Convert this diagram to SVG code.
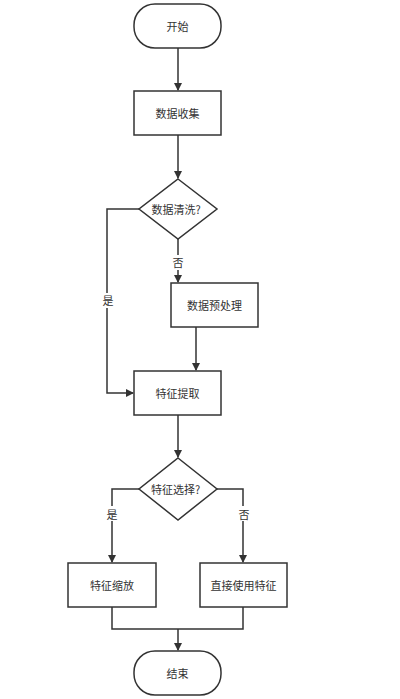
<svg xmlns="http://www.w3.org/2000/svg" width="400" height="699" viewBox="0 0 400 699">
<style>
.n{fill:#fff;stroke:#333;stroke-width:1.5}
.t{font-family:"Noto Sans CJK SC","Liberation Sans",sans-serif;font-size:11px;fill:#333;text-anchor:middle;dominant-baseline:central}
.c{fill:none;stroke:#333;stroke-width:1.5}
.lb{fill:#fff}
</style>
<defs>
<marker id="a" markerWidth="8" markerHeight="8" refX="7" refY="4" orient="auto" markerUnits="userSpaceOnUse">
<path d="M0,0 L8,4 L0,8 Z" fill="#333"/>
</marker>
</defs>
<rect width="400" height="699" fill="#fff"/>
<g id="connectors">
<path class="c" d="M178,48 V90" marker-end="url(#a)"/>
<path class="c" d="M178,135 V178" marker-end="url(#a)"/>
<path class="c" d="M139,209 H107 V393 H133" marker-end="url(#a)"/>
<path class="c" d="M178,239 V282" marker-end="url(#a)"/>
<path class="c" d="M196,327 V370" marker-end="url(#a)"/>
<path class="c" d="M178,415 V457" marker-end="url(#a)"/>
<path class="c" d="M139,489 H112 V562" marker-end="url(#a)"/>
<path class="c" d="M217,489 H243 V562" marker-end="url(#a)"/>
<path class="c" d="M112,607 V629 H243 V607"/>
<path class="c" d="M178,629 V650" marker-end="url(#a)"/>
<rect class="lb" x="101" y="293" width="14" height="15"/>
<text class="t" x="108" y="300">是</text>
<rect class="lb" x="171" y="255" width="14" height="15"/>
<text class="t" x="178" y="262">否</text>
<rect class="lb" x="105" y="506" width="14" height="15"/>
<text class="t" x="112" y="514">是</text>
<rect class="lb" x="236" y="506" width="14" height="15"/>
<text class="t" x="244" y="514">否</text>
</g>
<g id="start"><rect class="n" x="134" y="4" width="87" height="44" rx="21"/><text class="t" x="177.5" y="26">开始</text></g>
<g id="collect"><rect class="n" x="134" y="91" width="87" height="44"/><text class="t" x="177.5" y="113">数据收集</text></g>
<g id="clean"><path class="n" d="M178,179 L217,209 L178,239 L139,209 Z"/><text class="t" x="176" y="209">数据清洗?</text></g>
<g id="preprocess"><rect class="n" x="171" y="283" width="87" height="44"/><text class="t" x="214.5" y="305">数据预处理</text></g>
<g id="extract"><rect class="n" x="134" y="371" width="87" height="44"/><text class="t" x="177.5" y="393">特征提取</text></g>
<g id="select"><path class="n" d="M178,458 L217,489 L178,520 L139,489 Z"/><text class="t" x="175.5" y="489">特征选择?</text></g>
<g id="scale"><rect class="n" x="68" y="563" width="88" height="44"/><text class="t" x="112" y="585">特征缩放</text></g>
<g id="direct"><rect class="n" x="200" y="563" width="87" height="44"/><text class="t" x="243.5" y="585">直接使用特征</text></g>
<g id="end"><rect class="n" x="134" y="651" width="87" height="44" rx="21"/><text class="t" x="177.5" y="673">结束</text></g>
</svg>
